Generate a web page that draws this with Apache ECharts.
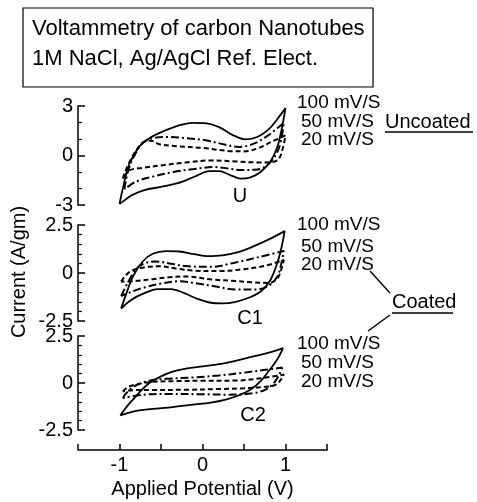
<!DOCTYPE html>
<html>
<head>
<meta charset="utf-8">
<script src="https://cdn.jsdelivr.net/npm/echarts@6/dist/echarts.min.js"></script>
<style>
  html, body { margin: 0; padding: 0; background: #fff; }
  #chart { width: 477px; height: 502px; }
</style>
</head>
<body>
<div id="chart"></div>
<script>
// [potential (V), current (A/gm)] -- forward scan then reverse scan, corners repeated
const u100 = [[-1.0,-2.95],[-0.96,-2.0],[-0.88,-0.5],[-0.76,0.55],[-0.64,1.05],[-0.48,1.45],[-0.3,1.8],[-0.12,1.98],[0.05,1.95],[0.2,1.72],[0.36,1.25],[0.52,0.98],[0.66,1.12],[0.8,1.6],[0.9,2.2],[1.0,2.87],
  [1.0,2.87],[0.95,1.5],[0.9,0.5],[0.82,-0.35],[0.7,-1.0],[0.58,-1.32],[0.46,-1.4],[0.34,-1.2],[0.2,-0.95],[0.08,-0.95],[-0.08,-1.25],[-0.3,-1.68],[-0.5,-1.9],[-0.7,-2.1],[-0.85,-2.4],[-0.95,-2.75],[-1.0,-2.95],[-1.0,-2.95]]
const u50 = [[-0.94,-2.05],[-0.9,-1.0],[-0.82,0.0],[-0.72,0.75],[-0.6,1.05],[-0.44,1.12],[-0.2,1.05],[0.04,0.92],[0.28,0.65],[0.44,0.52],[0.62,0.72],[0.8,1.25],[0.9,1.65],[0.98,2.0],
  [0.98,2.0],[0.95,1.0],[0.9,0.2],[0.8,-0.5],[0.66,-0.85],[0.46,-0.88],[0.3,-0.78],[0.14,-0.7],[-0.1,-0.82],[-0.35,-1.0],[-0.6,-1.28],[-0.8,-1.58],[-0.94,-2.05],[-0.94,-2.05]]
const u20 = [[-0.96,-1.4],[-0.9,-0.6],[-0.8,0.3],[-0.7,0.85],[-0.62,0.9],[-0.52,0.68],[-0.3,0.56],[0.0,0.46],[0.3,0.28],[0.5,0.25],[0.66,0.42],[0.84,0.85],[1.0,1.22],
  [1.0,1.22],[0.97,0.5],[0.92,-0.2],[0.84,-0.4],[0.66,-0.42],[0.4,-0.36],[0.1,-0.3],[-0.2,-0.42],[-0.5,-0.6],[-0.72,-0.75],[-0.88,-0.9],[-0.96,-1.4],[-0.96,-1.4]]

const c1_100 = [[-0.98,-1.85],[-0.92,-1.1],[-0.84,-0.2],[-0.72,0.6],[-0.6,1.0],[-0.44,1.14],[-0.28,1.12],[-0.1,0.98],[0.06,0.88],[0.24,0.92],[0.44,1.1],[0.62,1.4],[0.8,1.75],[0.99,2.18],
  [0.99,2.18],[0.95,1.3],[0.9,0.5],[0.82,-0.35],[0.72,-0.9],[0.58,-1.25],[0.4,-1.5],[0.24,-1.58],[0.1,-1.55],[-0.06,-1.35],[-0.22,-1.05],[-0.38,-0.84],[-0.54,-0.84],[-0.7,-1.05],[-0.86,-1.4],[-0.98,-1.85],[-0.98,-1.85]]
const c1_50 = [[-0.98,-1.2],[-0.9,-0.5],[-0.8,0.2],[-0.7,0.5],[-0.56,0.6],[-0.38,0.48],[-0.2,0.36],[0.1,0.32],[0.4,0.55],[0.7,0.85],[0.98,1.15],
  [0.98,1.15],[0.95,0.5],[0.9,-0.2],[0.8,-0.65],[0.66,-0.86],[0.4,-0.86],[0.16,-0.7],[-0.06,-0.55],[-0.28,-0.43],[-0.5,-0.55],[-0.72,-0.78],[-0.88,-1.02],[-0.98,-1.2],[-0.98,-1.2]]
const c1_20 = [[-0.98,-0.45],[-0.92,-0.1],[-0.84,0.15],[-0.66,0.32],[-0.52,0.35],[-0.3,0.22],[-0.1,0.12],[0.2,0.1],[0.5,0.2],[0.76,0.38],[0.98,0.68],
  [0.98,0.68],[0.95,0.2],[0.9,-0.3],[0.8,-0.52],[0.6,-0.48],[0.4,-0.42],[0.12,-0.34],[-0.2,-0.18],[-0.4,-0.22],[-0.6,-0.32],[-0.84,-0.43],[-0.98,-0.45],[-0.98,-0.45]]

const c2_100 = [[-0.99,-1.72],[-0.92,-1.3],[-0.84,-0.89],[-0.74,-0.4],[-0.64,0.0],[-0.5,0.35],[-0.36,0.6],[-0.2,0.76],[0.0,0.88],[0.2,1.0],[0.4,1.18],[0.6,1.4],[0.8,1.62],[0.97,1.86],
  [0.97,1.86],[0.9,1.25],[0.8,0.65],[0.7,0.1],[0.58,-0.35],[0.44,-0.65],[0.28,-0.88],[0.1,-1.04],[-0.12,-1.15],[-0.36,-1.28],[-0.6,-1.38],[-0.8,-1.48],[-0.99,-1.72],[-0.99,-1.72]]
const c2_50 = [[-0.96,-0.8],[-0.9,-0.45],[-0.8,-0.12],[-0.64,0.12],[-0.44,0.22],[-0.1,0.3],[0.2,0.4],[0.5,0.55],[0.76,0.7],[0.96,0.82],
  [0.96,0.82],[0.92,0.4],[0.86,0.0],[0.76,-0.35],[0.6,-0.55],[0.3,-0.62],[0.0,-0.6],[-0.4,-0.58],[-0.7,-0.62],[-0.96,-0.8],[-0.96,-0.8]]
const c2_20 = [[-0.96,-0.45],[-0.9,-0.22],[-0.8,-0.08],[-0.6,0.06],[-0.3,0.1],[0.0,0.12],[0.4,0.13],[0.7,0.25],[0.98,0.45],
  [0.98,0.45],[0.94,0.15],[0.88,-0.1],[0.76,-0.2],[0.5,-0.28],[0.2,-0.32],[-0.2,-0.36],[-0.6,-0.37],[-0.84,-0.38],[-0.96,-0.45],[-0.96,-0.45]]

const panelLoops = [[u100, u50, u20], [c1_100, c1_50, c1_20], [c2_100, c2_50, c2_20]]
const panelNames = ['U', 'C1', 'C2']
const yLimits = [3, 2.5, 2.5]
const yMinorSplits = [3, 5, 5]
const rateNames = ['100 mV/S', '50 mV/S', '20 mV/S']
const titleLines = ['Voltammetry of carbon Nanotubes', '1M NaCl, Ag/AgCl Ref. Elect.']

const font = "'Liberation Sans', Arial, sans-serif"
const ink = '#000'

// 三个面板
const grids = [
  { left: 78, top: 106, width: 249, height: 99 },
  { left: 78, top: 225, width: 249, height: 96 },
  { left: 78, top: 336, width: 249, height: 94 }
]
const lineStyles = [
  { type: 'solid', width: 1.8 },
  { type: [8, 3, 2, 3], width: 2 },
  { type: [5, 3], width: 2 }
]

const xAxis = grids.map((g, i) => ({
  gridIndex: i,
  type: 'value',
  min: -1.5,
  max: 1.5,
  interval: 0.5,
  show: i === 2,
  offset: 20,
  axisLine: { show: true, onZero: false, lineStyle: { color: ink, width: 1.5 } },
  axisTick: { show: true, inside: true, length: 6, lineStyle: { color: ink, width: 1.5 } },
  axisLabel: {
    color: ink, fontSize: 20, fontFamily: font, margin: 5,
    formatter: v => (Math.abs(v % 1) < 1e-9 ? String(v) : '')
  },
  splitLine: { show: false },
  name: i === 2 ? 'Applied Potential (V)' : '',
  nameLocation: 'middle',
  nameGap: 29,
  nameTextStyle: { color: ink, fontSize: 20, fontFamily: font }
}))

const yAxis = grids.map((g, i) => ({
  gridIndex: i,
  type: 'value',
  min: -yLimits[i],
  max: yLimits[i],
  interval: yLimits[i],
  axisLine: { show: true, onZero: false, lineStyle: { color: ink, width: 1.5 } },
  axisTick: { show: true, inside: true, length: 7, lineStyle: { color: ink, width: 1.5 } },
  minorTick: { show: true, splitNumber: yMinorSplits[i], length: 4, lineStyle: { color: ink, width: 1.2 } },
  axisLabel: { color: ink, fontSize: 20, fontFamily: font, margin: 5 },
  splitLine: { show: false },
  minorSplitLine: { show: false }
}))

const series = []
panelLoops.forEach((loops, i) => {
  loops.forEach((loop, k) => {
    series.push({
      name: panelNames[i] + ' ' + rateNames[k],
      type: 'line',
      xAxisIndex: i,
      yAxisIndex: i,
      data: loop,
      smooth: 0.35,
      showSymbol: false,
      symbol: 'none',
      silent: true,
      lineStyle: Object.assign({ color: ink }, lineStyles[k])
    })
  })
})

function label(text, x, y, size, align) {
  return {
    type: 'text', x: x, y: y, silent: true,
    style: {
      text: text, x: 0, y: 0, fill: ink,
      font: size + 'px ' + font,
      align: align || 'left', verticalAlign: 'middle',
      textAlign: align || 'left', textVerticalAlign: 'middle'
    }
  }
}
function stroke(x1, y1, x2, y2) {
  return {
    type: 'line', silent: true,
    shape: { x1: x1, y1: y1, x2: x2, y2: y2 },
    style: { stroke: ink, lineWidth: 1.4 }
  }
}

const ratePos = [
  [[297, 103], [301, 122], [301, 140]],
  [[297, 225], [301, 247], [301, 265]],
  [[297, 344], [301, 363], [301, 382]]
]
const namePos = [[240, 196], [250, 318], [253, 415]]

const graphic = [
  {
    type: 'rect', silent: true,
    shape: { x: 23, y: 8, width: 350, height: 79 },
    style: { fill: '#fff', stroke: ink, lineWidth: 1.2 }
  },
  label(titleLines[0], 32, 29, 22),
  label(titleLines[1], 32, 59, 22),
  Object.assign(label('Current (A/gm)', 19, 272, 20, 'center'), { rotation: Math.PI / 2 }),
  label('Uncoated', 385, 122, 20),
  stroke(385, 132, 473, 132),
  label('Coated', 392, 302, 20),
  stroke(392, 313, 453, 313),
  stroke(370, 271, 390, 293),
  stroke(390, 315, 368, 331)
]
ratePos.forEach(rows => rows.forEach((p, k) => graphic.push(label(rateNames[k], p[0], p[1], 19))))
namePos.forEach((p, i) => graphic.push(label(panelNames[i], p[0], p[1], 20, 'center')))

const chart = echarts.init(document.getElementById('chart'), null, { renderer: 'canvas' })
chart.setOption({
  backgroundColor: '#fff',
  animation: false,
  grid: grids,
  xAxis: xAxis,
  yAxis: yAxis,
  series: series,
  graphic: graphic
})
</script>
</body>
</html>
